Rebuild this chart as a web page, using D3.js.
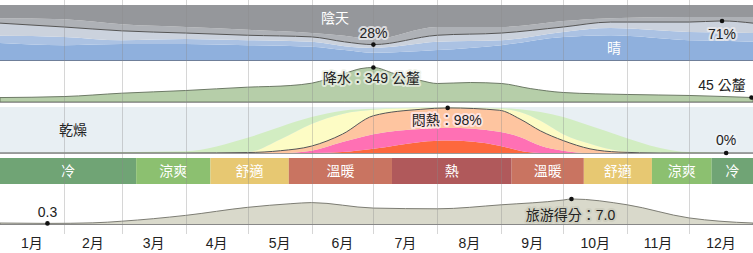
<!DOCTYPE html>
<html>
<head>
<meta charset="utf-8">
<script src="https://cdn.jsdelivr.net/npm/d3@7"></script>
<style>
  body { margin: 0; background: #fff; }
  svg text { font-family: "Liberation Sans", Arial, "Noto Sans CJK TC", sans-serif; font-size: 14px; }
</style>
</head>
<body>
<svg id="chart" width="753" height="253"></svg>
<script>
// month labels and day-of-year at start of each month
var months = ["1月","2月","3月","4月","5月","6月","7月","8月","9月","10月","11月","12月"];
var monthStarts = [0,31,59,90,120,151,181,212,243,273,304,334,365];

// cloud cover (% of time in each category)
var cloudDays    = [0,31,59,90,120,151,167,181,212,243,273,296,334,350,365];
var clear        = [31,27,29,29,27,24,18,13,18,27,42,45,36,35,33];
var mostlyClear  = [13,15,7,9,9,9,7,9,15,9,9,13,15,15,16];
var partlyCloudy = [23,18,17,11,9,9,8,6,12,13,9,11,18,21,18];
var mostlyCloudy = [9,14,12,11,10,7,11,10,15,11,11,7,9,7,11];
var overcast     = [24,26,35,40,45,51,56,62,40,40,29,24,22,22,22];

// monthly rainfall, mm (31-day sliding)
var rainDays = [0,31,59,90,120,141,151,167,175,181,191,204,212,228,243,257,273,304,334,365];
var rain     = [45,55,89,116,150,167,190,288,338,349,288,217,187,197,187,136,96,76,66,45];

// humidity comfort (% of time)
var humDays     = [0,90,120,136,151,166,181,204,217,242,252,262,273,286,300,320,334,365];
var miserable   = [0,0,0,0,0,2,9,24,27,16,5,0,0,0,0,0,0,0];
var oppressive  = [0,0,0,0,5,22,32,28,28,30,30,16,5,0,0,0,0,0];
var muggy       = [0,0,1,5,10,17,40,43,43,47,39,32,22,9,2,0,0,0];
var humid       = [0,0,1,25,48,44,13,3,1,3,15,22,14,11,3,0,0,0];
var comfortable = [0,4,31,27,15,7,2,1,0.5,2,6,19,37,39,33,11,2,0];

// temperature categories
var tempLabels = ["冷","涼爽","舒適","溫暖","熱","溫暖","舒適","涼爽","冷"];
var tempBreaks = [0,66,102,140,190,248,283,316,345,365];
var tempColors = ["#70a475","#8cc070","#e7c872","#c97461","#b0595b","#c97461","#e7c872","#8cc070","#70a475"];

// tourism score
var tourDays  = [0,23,45,59,90,120,141,151,181,212,243,273,277,304,334,349,365];
var tourScore = [0.4,0.3,0.45,0.9,2.5,4.7,5.7,6.0,4.5,4.3,5.4,6.7,7.0,5.4,1.8,0.9,0.4];

var W = 753;
var svg = d3.select("#chart");
var x = d3.scaleLinear().domain([0, 365]).range([0, W]);

// build a stacked table from the band arrays
function stackBands(days, bands) {
    var keys = bands.map(function(b) { return b.key; });
    var rows = days.map(function(d, i) {
        var r = { day: d };
        bands.forEach(function(b) { r[b.key] = b.values[i]; });
        return r;
    });
    return d3.stack().keys(keys)(rows);
}

function drawStack(series, y, colors) {
    var area = d3.area()
        .curve(d3.curveMonotoneX)
        .x(function(d) { return x(d.data.day); })
        .y0(function(d) { return y(d[0]); })
        .y1(function(d) { return y(d[1]); });
    svg.append("g").selectAll("path")
        .data(series)
        .join("path")
        .attr("fill", function(d, i) { return colors[i]; })
        .attr("d", area);
}

function label(txt, px, py, opts) {
    opts = opts || {};
    var t = svg.append("text")
        .attr("x", px).attr("y", py)
        .attr("text-anchor", opts.anchor || "middle")
        .attr("dominant-baseline", "central")
        .attr("fill", opts.fill || "#222")
        .text(txt);
    if (opts.halo) {
        t.attr("stroke", opts.halo).attr("stroke-width", 4)
         .attr("stroke-linejoin", "round").style("paint-order", "stroke");
    }
    return t;
}

function dot(px, py) {
    svg.append("circle").attr("cx", px).attr("cy", py).attr("r", 2.3).attr("fill", "#111");
}

// ---- cloud cover panel
var yCloud = d3.scaleLinear().domain([0, 100]).range([60, 5]);
var cloudSeries = stackBands(cloudDays, [
    { key: "clear", values: clear },
    { key: "mostlyClear", values: mostlyClear },
    { key: "partlyCloudy", values: partlyCloudy },
    { key: "mostlyCloudy", values: mostlyCloudy },
    { key: "overcast", values: overcast }
]);
drawStack(cloudSeries, yCloud, ["#8fb0dd", "#abc2e3", "#cbd2dd", "#aeb1b6", "#95979b"]);

var clearish = cloudDays.map(function(d, i) { return clear[i] + mostlyClear[i] + partlyCloudy[i]; });
svg.append("path")
    .datum(cloudDays)
    .attr("fill", "none").attr("stroke", "#555").attr("stroke-width", 1)
    .attr("d", d3.line().curve(d3.curveMonotoneX)
        .x(function(d) { return x(d); })
        .y(function(d, i) { return yCloud(clearish[i]); }));

svg.append("line").attr("x1", 0).attr("x2", W).attr("y1", 60.5).attr("y2", 60.5)
    .attr("stroke", "#6f7f99").attr("stroke-width", 1.2);

// ---- rainfall panel
var yRain = d3.scaleLinear().domain([0, 450]).range([102, 57.5]);
svg.append("path")
    .datum(rainDays)
    .attr("fill", "#b6cea9").attr("stroke", "#6d7a66").attr("stroke-width", 1)
    .attr("d", d3.area().curve(d3.curveMonotoneX)
        .x(function(d) { return x(d); })
        .y0(yRain(0))
        .y1(function(d, i) { return yRain(rain[i]); }));
svg.append("line").attr("x1", 0).attr("x2", W).attr("y1", 102.5).attr("y2", 102.5)
    .attr("stroke", "#999").attr("stroke-width", 1);

// ---- humidity panel
var yHum = d3.scaleLinear().domain([0, 100]).range([153, 107]);
svg.append("rect").attr("x", 0).attr("y", 107).attr("width", W).attr("height", 46).attr("fill", "#e8eff3");
var humSeries = stackBands(humDays, [
    { key: "miserable", values: miserable },
    { key: "oppressive", values: oppressive },
    { key: "muggy", values: muggy },
    { key: "humid", values: humid },
    { key: "comfortable", values: comfortable }
]);
drawStack(humSeries, yHum, ["#fd683d", "#ff70b4", "#fec5a0", "#fdfcc5", "#d2edc2"]);
var muggyish = humDays.map(function(d, i) { return miserable[i] + oppressive[i] + muggy[i]; });
svg.append("path")
    .datum(humDays)
    .attr("fill", "none").attr("stroke", "#555").attr("stroke-width", 1)
    .attr("d", d3.line().curve(d3.curveMonotoneX)
        .x(function(d) { return x(d); })
        .y(function(d, i) { return yHum(muggyish[i]); }));
svg.append("line").attr("x1", 0).attr("x2", W).attr("y1", 153.5).attr("y2", 153.5)
    .attr("stroke", "#999").attr("stroke-width", 1);

// ---- temperature band
var tempG = svg.append("g");
tempLabels.forEach(function(lbl, i) {
    var x0 = x(tempBreaks[i]), x1 = x(tempBreaks[i + 1]);
    tempG.append("rect").attr("x", x0).attr("y", 158).attr("width", x1 - x0).attr("height", 26)
        .attr("fill", tempColors[i]);
    tempG.append("text").attr("x", (x0 + x1) / 2).attr("y", 171)
        .attr("text-anchor", "middle").attr("dominant-baseline", "central")
        .attr("fill", "#fff").text(lbl);
});

// ---- tourism score panel
var yTour = d3.scaleLinear().domain([0, 10]).range([224.5, 188]);
svg.append("path")
    .datum(tourDays)
    .attr("fill", "#d9d9cb").attr("stroke", "#7d7d74").attr("stroke-width", 1)
    .attr("d", d3.area().curve(d3.curveMonotoneX)
        .x(function(d) { return x(d); })
        .y0(yTour(0))
        .y1(function(d, i) { return yTour(tourScore[i]); }));
svg.append("line").attr("x1", 0).attr("x2", W).attr("y1", 224.5).attr("y2", 224.5)
    .attr("stroke", "#888").attr("stroke-width", 1);

// ---- month grid lines and labels
svg.append("g").selectAll("line")
    .data(monthStarts.slice(1, 12))
    .join("line")
    .attr("x1", function(d) { return Math.round(x(d)) + 0.5; })
    .attr("x2", function(d) { return Math.round(x(d)) + 0.5; })
    .attr("y1", 0).attr("y2", 234)
    .attr("stroke", "#8a8a8a").attr("stroke-opacity", 0.35).attr("stroke-width", 1);

svg.append("g").selectAll("text")
    .data(months)
    .join("text")
    .attr("x", function(d, i) { return x((monthStarts[i] + monthStarts[i + 1]) / 2); })
    .attr("y", 243)
    .attr("text-anchor", "middle").attr("dominant-baseline", "central")
    .attr("fill", "#222")
    .text(function(d) { return d; });

// ---- annotations
label("陰天", 335, 18, { fill: "#fff" });
label("晴", 614, 48, { fill: "#fff" });

var iMinC = d3.minIndex(clearish);
dot(x(cloudDays[iMinC]), yCloud(clearish[iMinC]));
label(clearish[iMinC] + "%", x(cloudDays[iMinC]), 33, { halo: "rgba(235,235,238,0.8)" });
var iMaxC = d3.maxIndex(clearish);
dot(x(cloudDays[iMaxC]), yCloud(clearish[iMaxC]));
label(clearish[iMaxC] + "%", x(cloudDays[iMaxC]), 34, { halo: "rgba(235,235,238,0.8)" });

var iMaxR = d3.maxIndex(rain);
dot(x(rainDays[iMaxR]), yRain(rain[iMaxR]));
label("降水：" + rain[iMaxR] + " 公釐", x(rainDays[iMaxR]) - 2, 78, { halo: "rgba(235,240,230,0.8)" });
var iLastR = rain.length - 1;
dot(x(rainDays[iLastR]) - 1.5, yRain(rain[iLastR]));
label(rain[iLastR] + " 公釐", 722, 85, { halo: "rgba(255,255,255,0.8)" });

label("乾燥", 73, 130);
var iMaxH = d3.maxIndex(muggyish);
dot(x(humDays[iMaxH]), yHum(muggyish[iMaxH]));
label("悶熱：" + muggyish[iMaxH] + "%", x(humDays[iMaxH]) - 1, 120, { halo: "rgba(255,235,240,0.8)" });
dot(x(352), yHum(0));
label("0%", x(352), 140, { halo: "rgba(240,245,248,0.8)" });

var iMinT = d3.minIndex(tourScore);
dot(x(tourDays[iMinT]), yTour(tourScore[iMinT]));
label(tourScore[iMinT].toFixed(1), x(tourDays[iMinT]), 212);
var iMaxT = d3.maxIndex(tourScore);
dot(x(tourDays[iMaxT]), yTour(tourScore[iMaxT]));
label("旅游得分：" + tourScore[iMaxT].toFixed(1), x(tourDays[iMaxT]) - 1, 215, { halo: "rgba(205,205,190,0.8)" });
</script>
</body>
</html>
